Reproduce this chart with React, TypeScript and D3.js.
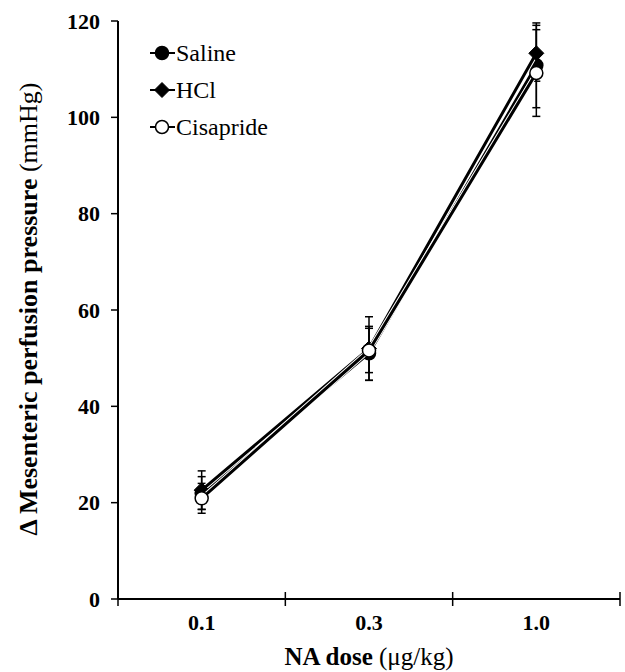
import React from "react";
import * as d3 from "d3";

const doses = ["0.1", "0.3", "1.0"];
const yTicks = [0, 20, 40, 60, 80, 100, 120];
const seriesNames = ["Saline", "HCl", "Cisapride"];
const salineMean = [22.0, 51.0, 110.8];
const salineErr = [3.4, 5.6, 8.8];
const hclMean = [22.6, 52.0, 113.3];
const hclErr = [4.0, 6.6, 5.8];
const cisaprideMean = [20.9, 51.6, 109.2];
const cisaprideErr = [3.1, 4.6, 9.0];

const W = 625, H = 672;
const left = 118, right = 620, top = 21, bottom = 599;
const font = "Liberation Serif";

export default function App() {
  const x = d3.scaleBand<string>().domain(doses).range([left, right]);
  const y = d3.scaleLinear().domain([0, 120]).range([bottom, top]);
  const series = [
    { name: seriesNames[0], mean: salineMean, err: salineErr, shape: "circle", fill: "#000" },
    { name: seriesNames[1], mean: hclMean, err: hclErr, shape: "diamond", fill: "#000" },
    { name: seriesNames[2], mean: cisaprideMean, err: cisaprideErr, shape: "circle", fill: "#fff" },
  ];
  const cx = (d: string) => (x(d) as number) + x.bandwidth() / 2;
  const line = d3.line<number>().x((_, i) => cx(doses[i])).y((v) => y(v));
  const marker = (shape: string, fill: string, px: number, py: number, key: string) =>
    shape === "circle" ? (
      <circle key={key} cx={px} cy={py} r={6.5} fill={fill} stroke="#000" strokeWidth={1.5} />
    ) : (
      <path key={key} d={`M${px},${py - 7.5}L${px + 7.5},${py}L${px},${py + 7.5}L${px - 7.5},${py}Z`} fill={fill} stroke="#000" strokeWidth={1} />
    );
  const bandEdges = [...doses.map((d) => x(d) as number), right];
  const ts = { fontFamily: font };
  return (
    <svg width={W} height={H} style={{ position: "absolute", left: 0, top: 0, fontFamily: font }}>
      <rect width={W} height={H} fill="#fff" />
      {series.map((s) =>
        s.mean.map((m, i) => {
          const px = cx(doses[i]);
          const y1 = y(m + s.err[i]);
          const y2 = y(m - s.err[i]);
          return (
            <g key={s.name + "e" + i} stroke="#000" strokeWidth={1.5}>
              <line x1={px} x2={px} y1={y1} y2={y2} />
              <line x1={px - 4} x2={px + 4} y1={y1} y2={y1} />
              <line x1={px - 4} x2={px + 4} y1={y2} y2={y2} />
            </g>
          );
        })
      )}
      {series.map((s) => (
        <g key={s.name}>
          <path d={line(s.mean) as string} fill="none" stroke="#fff" strokeWidth={5} />
          <path d={line(s.mean) as string} fill="none" stroke="#000" strokeWidth={3} />
          {s.mean.map((m, i) => marker(s.shape, s.fill, cx(doses[i]), y(m), s.name + "m" + i))}
        </g>
      ))}
      <line x1={left} x2={left} y1={top} y2={bottom} stroke="#000" strokeWidth={2} />
      <line x1={left} x2={right} y1={bottom} y2={bottom} stroke="#000" strokeWidth={2} />
      {yTicks.map((t) => (
        <g key={"y" + t}>
          <line x1={left - 7} x2={left} y1={y(t)} y2={y(t)} stroke="#000" strokeWidth={1.5} />
          <text x={100} y={y(t)} dy="0.35em" textAnchor="end" fontWeight="bold" fontSize={22} style={ts}>{t}</text>
        </g>
      ))}
      {bandEdges.map((e, i) => (
        <line key={"xt" + i} x1={e} x2={e} y1={bottom - 7} y2={bottom + 7} stroke="#000" strokeWidth={1.5} />
      ))}
      {doses.map((d) => (
        <text key={"xl" + d} x={cx(d)} y={630} textAnchor="middle" fontWeight="bold" fontSize={22} style={ts}>{d}</text>
      ))}
      <text x={(left + right) / 2} y={665} textAnchor="middle" fontSize={25} style={ts}>
        <tspan fontWeight="bold">NA dose</tspan> (μg/kg)
      </text>
      <text transform={`translate(37, ${309}) rotate(-90)`} textAnchor="middle" fontSize={26} style={ts}>
        <tspan fontWeight="bold">Δ Mesenteric perfusion pressure</tspan> (mmHg)
      </text>
      {series.map((s, i) => {
        const ly = 53 + i * 37;
        return (
          <g key={"lg" + s.name}>
            <line x1={150} x2={175} y1={ly} y2={ly} stroke="#000" strokeWidth={2} />
            {marker(s.shape, s.fill, 162, ly, "lgm" + i)}
            <text x={176} y={ly} dy="0.35em" fontSize={24} style={ts}>{s.name}</text>
          </g>
        );
      })}
    </svg>
  );
}
